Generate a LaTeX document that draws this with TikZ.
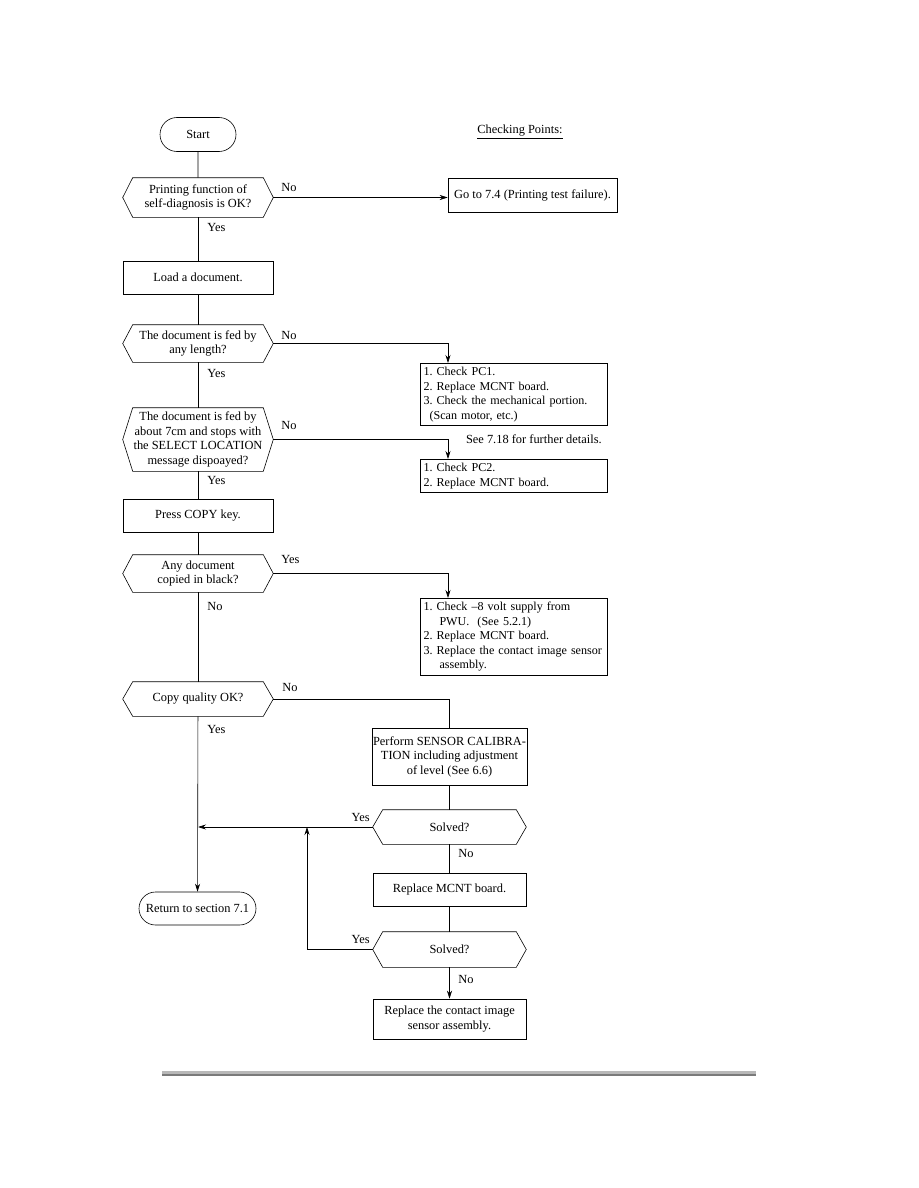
\documentclass[tikz,border=0pt]{standalone}
\usepackage{fontspec}
\setmainfont{Liberation Serif}
\usetikzlibrary{arrows.meta,shapes.misc}
\frenchspacing
\hyphenpenalty=10000

\tikzset{
  every node/.style={font=\fontsize{12.4}{14.5}\selectfont},
  term/.style={draw, rounded rectangle, minimum height=34pt, inner sep=2pt},
  proc/.style={draw, minimum width=150pt, minimum height=33pt, align=center, inner sep=2pt},
  decision/.style={minimum width=150pt, align=center, inner sep=1pt},
  listbox/.style={draw, text width=180pt, align=left, inner xsep=3.5pt, inner ysep=4pt, anchor=north,
    font=\fontsize{12.1}{14.5}\selectfont},
  lbl/.style={inner sep=0pt},
  arr/.style={-{Stealth[length=8pt,width=5pt]}}
}

\begin{document}
\begin{tikzpicture}[x=1pt,y=-1pt,line width=0.6pt]
\useasboundingbox (0,0) rectangle (918,1188);

% main column
\node[term, minimum width=80pt] (start) at (198,134.5) {Start};
\node[decision, minimum height=39pt] (d1) at (198,197.5) {Printing function of\\self-diagnosis is OK?};
\node[proc] (load) at (198,277.5) {Load a document.};
\node[decision, minimum height=37pt] (d2) at (198,343.5) {The document is fed by\\any length?};
\node[decision, minimum height=63pt] (d3) at (198,439.5) {The document is fed by\\about 7cm and stops with\\the SELECT LOCATION\\message dispoayed?};
\node[proc] (copy) at (198,515.5) {Press COPY key.};
\node[decision, minimum height=37pt] (d4) at (198,573.5) {Any document\\copied in black?};
\node[decision, minimum height=34pt] (d5) at (198,699) {Copy quality OK?};
\node[term, minimum width=121pt, minimum height=33pt] (ret) at (197.5,908.5) {Return to section 7.1};

% checking points
\node[lbl] (head) at (520,132) {\underline{Checking Points:}};
\node[draw, minimum width=169pt, minimum height=34pt, inner sep=2pt] (goto) at (532.5,195) {Go to 7.4 (Printing test failure).};
\node[listbox] (pc1) at (513.5,363) {1. Check PC1.\\2. Replace MCNT board.\\3. Check the mechanical portion.\\\hspace*{6pt}(Scan motor, etc.)};
\node[lbl, anchor=east] (see) at (602,439) {See 7.18 for further details.};
\node[listbox] (pc2) at (513.5,459) {1. Check PC2.\\2. Replace MCNT board.};
\node[listbox] (chk) at (513.5,598) {1. Check --8 volt supply from\\\hspace*{16pt}PWU.\ \ (See 5.2.1)\\2. Replace MCNT board.\\\mbox{3. Replace the contact image sensor}\\\hspace*{16pt}assembly.};

% right column
\node[draw, minimum width=153pt, minimum height=57pt, align=center, inner sep=1pt] (cal) at (449.5,756.5) {Perform SENSOR CALIBRA-\\TION including adjustment\\of level (See 6.6)};
\node[decision, minimum width=153pt, minimum height=34pt] (s1) at (449.5,827) {Solved?};
\node[proc, minimum width=153pt] (mcnt) at (449.5,889.5) {Replace MCNT board.};
\node[decision, minimum width=153pt, minimum height=35pt] (s2) at (449.5,949.5) {Solved?};
\node[proc, minimum width=153pt, minimum height=40pt] (fin) at (449.5,1019) {Replace the contact image\\sensor assembly.};

% hexagon outlines
\foreach \n in {d1,d2,d3,d4,d5,s1,s2}
  \draw (\n.west) -- ([xshift=10pt]\n.north west) -- ([xshift=-10pt]\n.north east)
    -- (\n.east) -- ([xshift=-10pt]\n.south east) -- ([xshift=10pt]\n.south west) -- cycle;

\coordinate (tapx) at (448,0);
\coordinate (loopx) at (307,0);

% connectors
\draw (start) -- (d1);
\draw (d1) -- (load);
\draw (load) -- (d2);
\draw (d2) -- (d3);
\draw (d3) -- (copy);
\draw (copy) -- (d4);
\draw (d4) -- (d5);
\draw[arr] (d5) -- (ret);
\draw[arr] (d1.east) -- (d1.east -| goto.west);
\draw[arr] (d2.east) -| (pc1.north -| tapx);
\draw[arr] (d3.east) -| (pc2.north -| tapx);
\draw[arr] (d4.east) -| (chk.north -| tapx);
\draw (d5.east) -| (cal.north);
\draw (cal) -- (s1);
\draw (s1) -- (mcnt);
\draw (mcnt) -- (s2);
\draw[arr] (s2) -- (fin);
\draw[arr] (s1.west) -- (s1.west -| d5.south);
\draw[arr] (s2.west) -| (s1.west -| loopx);

% branch labels
\node[lbl, anchor=west] (l1) at (281,188) {No};
\node[lbl, anchor=west] (l2) at (207,227) {Yes};
\node[lbl, anchor=west] (l3) at (281,335) {No};
\node[lbl, anchor=west] (l4) at (207,373) {Yes};
\node[lbl, anchor=west] (l5) at (281,425) {No};
\node[lbl, anchor=west] (l6) at (207,480) {Yes};
\node[lbl, anchor=west] (l7) at (281,559) {Yes};
\node[lbl, anchor=west] (l8) at (207,606) {No};
\node[lbl, anchor=west] (l9) at (282,687) {No};
\node[lbl, anchor=west] (l10) at (207,729) {Yes};
\node[lbl, anchor=east] (l11) at (370,817) {Yes};
\node[lbl, anchor=west] (l12) at (458,853) {No};
\node[lbl, anchor=east] (l13) at (370,939) {Yes};
\node[lbl, anchor=west] (l14) at (458,979) {No};

% page rule
\fill[black!28] (162,1071) rectangle (756,1073.5);
\fill[black!52] (162,1073.5) rectangle (756,1075.5);
\end{tikzpicture}
\end{document}
